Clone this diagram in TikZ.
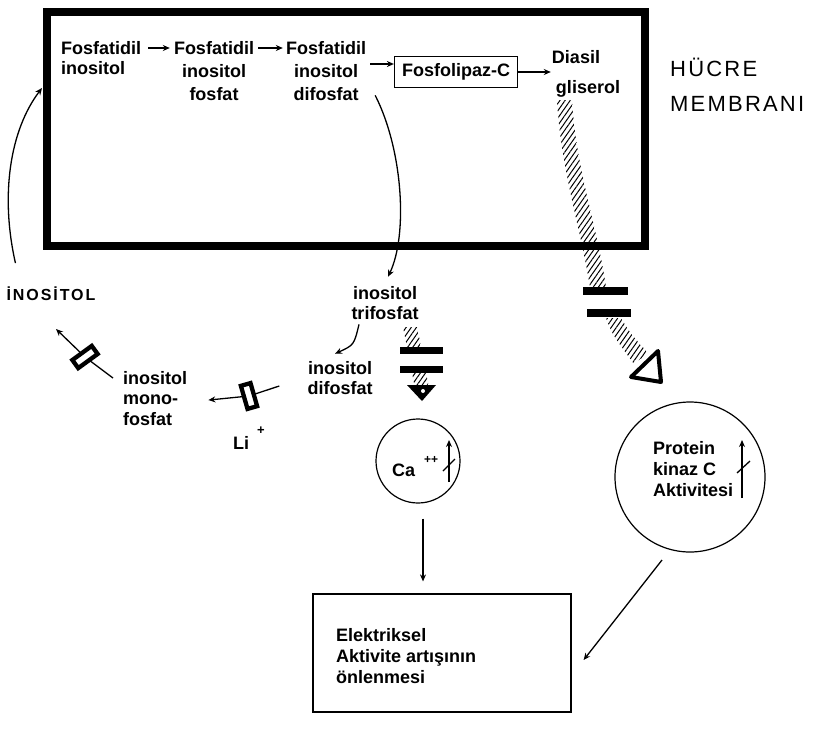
\documentclass[tikz,border=0pt]{standalone}
\usepackage{fontspec}
\setmainfont{Liberation Sans}
\newfontfamily\hucrefont[LetterSpace=10]{Liberation Sans}
\newfontfamily\inofont[LetterSpace=12]{Liberation Sans}
\usetikzlibrary{arrows.meta,patterns.meta}
\begin{document}
\begin{tikzpicture}[x=1pt,y=-1pt,
 lbl/.style={font=\bfseries\fontsize{18}{20}\selectfont, inner sep=1pt, align=center, anchor=base},
 lbll/.style={lbl, align=left, anchor=base west},
 conn/.style={line width=1.3pt, -{Stealth[length=7pt,width=6pt]}},
 plain/.style={line width=1.3pt},
 hatch/.style={pattern={Lines[angle=55,distance=4.2pt,line width=1pt]}},
 enz/.style={draw, line width=4.3pt, fill=white, minimum width=24pt, minimum height=10pt, inner sep=0pt},
]
\useasboundingbox (0,0) rectangle (816,739);
\fill[white] (0,0) rectangle (816,739);

% membrane
\node[draw, line width=7.5pt, minimum width=598pt, minimum height=234pt, inner sep=0pt] (membrane) at (346,129) {};

% (anchor base = baseline of the last line)
\node[lbll, font=\bfseries\fontsize{18}{20}\selectfont] (fi1) at (60,74) {Fosfatidil\\inositol};
\node[lbl, font=\bfseries\fontsize{18}{23}\selectfont] (fi2) at (214,100) {Fosfatidil\\inositol\\fosfat};
\node[lbl, font=\bfseries\fontsize{18}{23}\selectfont] (fi3) at (326,100) {Fosfatidil\\inositol\\difosfat};
\node[draw, line width=1.2pt, minimum width=123pt, minimum height=31pt, font=\bfseries\fontsize{18}{20}\selectfont, inner sep=1pt] (plc) at (456,72) {Fosfolipaz-C};
\node[lbl] (dia) at (576,63) {Diasil};
\node[lbl] (gli) at (588,93) {gliserol};
\node[anchor=base west, font=\hucrefont\fontsize{22}{35}\selectfont, align=left, inner sep=0pt] (hm) at (670,111) {HÜCRE\\MEMBRANI};

\draw[conn] ([shift={(6,-26)}]fi1.base east) -- ([shift={(-3,-52)}]fi2.base west);
\draw[conn] ([shift={(3,-52)}]fi2.base east) -- ([shift={(-2,-52)}]fi3.base west);
\coordinate (a3) at ([yshift=8pt]plc.west);
\coordinate (a3s) at ([xshift=3pt]fi3.east);
\draw[conn] (a3s |- a3) -- (a3);
\draw[conn] (plc.east) -- (plc.east -| dia.west);

% inositol trifosfat / difosfat
\node[lbl] (ip3) at (385,319) {inositol\\trifosfat};
\node[lbl] (ip2) at (340,394) {inositol\\difosfat};
\draw[conn] ([shift={(8,-6)}]fi3.south east) .. controls (403,150) and (408,235) .. ([shift={(3,-8)}]ip3.north);
\draw[conn] ([shift={(-26,4)}]ip3.south) .. controls (354,345) .. ([shift={(-5,-6)}]ip2.north);

% inositol
\node[font=\inofont\bfseries\fontsize{16}{16}\selectfont, anchor=base, inner sep=1pt] (ino) at (51,300) {İNOSİTOL};
\coordinate (mIn) at (42,88);
\draw[conn] ([shift={(10,-22)}]ino.north west) .. controls (0,195) and (10,130) .. (mIn);

% inositol monofosfat and enzymes
\node[lbll, font=\bfseries\fontsize{18}{20.5}\selectfont] (imf) at (122,425) {inositol\\mono-\\fosfat};
\coordinate (e1c) at (85,357);
\coordinate (e1end) at (56,329);
\draw[plain] ([shift={(-9,-47)}]imf.base west) -- (e1c);
\draw[conn] (e1c) -- (e1end);
\node[enz, rotate=36] (e1) at (e1c) {};

\coordinate (e2c) at (249,396);
\draw[plain] ([shift={(-27,-8)}]ip2.base west) -- (e2c);
\draw[conn] (e2c) -- ([shift={(20,2)}]imf.east);
\node[enz, rotate=-74] (e2) at (e2c) {};
\node[lbll] (li) at (232,449) {Li\hspace{8pt}\raisebox{15pt}{\fontsize{13}{13}\selectfont +}};

% hatched pathways
\path[hatch] (557,100) .. controls (561,170) and (580,225) .. (590,287) -- (606,287) .. controls (597,225) and (576,170) .. (572,100) -- cycle;
\path[hatch] (606,318) .. controls (612,334) .. (634,364) -- (648,353) .. controls (630,333) .. (621,318) -- cycle;
\path[hatch] (403,327) -- (417,327) -- (421,347) -- (407,347) -- cycle;
\path[hatch] (412,373) -- (426,373) -- (429,388) -- (415,388) -- cycle;
\fill (400,347) rectangle (443,354);
\fill (400,366) rectangle (443,373);
\fill (583,287) rectangle (628,295);
\fill (587,309) rectangle (631,317);
\fill (407,385) -- (436,385) -- (422,401) -- cycle;
\fill[white] (423,391) circle (2pt);
\draw[line width=4pt, fill=white, line join=round] (658,351) -- (631,377) -- (661,382) -- cycle;

% Ca circle
\node[circle, draw, line width=1.2pt, minimum size=84pt, inner sep=0pt] (ca) at (418,461) {};
\node[lbll] (catext) at (391,476) {Ca\hspace{9pt}\raisebox{13pt}{\fontsize{12}{12}\selectfont ++}};
\draw[conn] ([shift={(31,21)}]ca.center) -- ([shift={(31,-21)}]ca.center);
\draw[plain] ([shift={(25,10)}]ca.center) -- ([shift={(37,-2)}]ca.center);

% PKC circle
\node[circle, draw, line width=1.2pt, minimum size=150pt, inner sep=0pt] (pkc) at (690,477) {};
\node[lbll, font=\bfseries\fontsize{18}{21}\selectfont] (pkctext) at (652,496) {Protein\\kinaz C\\Aktivitesi};
\draw[conn] ([shift={(52,21)}]pkc.center) -- ([shift={(52,-37)}]pkc.center);
\draw[plain] ([shift={(47,-4)}]pkc.center) -- ([shift={(60,-16)}]pkc.center);

% result box
\node[draw, line width=1.2pt, minimum width=258pt, minimum height=118pt, inner sep=0pt] (box) at (442,653) {};
\node[lbll, font=\bfseries\fontsize{18}{21}\selectfont] (eltext) at (335,683) {Elektriksel\\Aktivite artışının\\önlenmesi};
\coordinate (cab) at ([shift={(5,15)}]ca.south);
\coordinate (boxtop) at ([yshift=12pt]box.north);
\draw[conn] (cab) -- (cab |- boxtop);
\draw[conn] ([shift={(-28,83)}]pkc.center) -- ([shift={(12,7)}]box.east);
\end{tikzpicture}
\end{document}
